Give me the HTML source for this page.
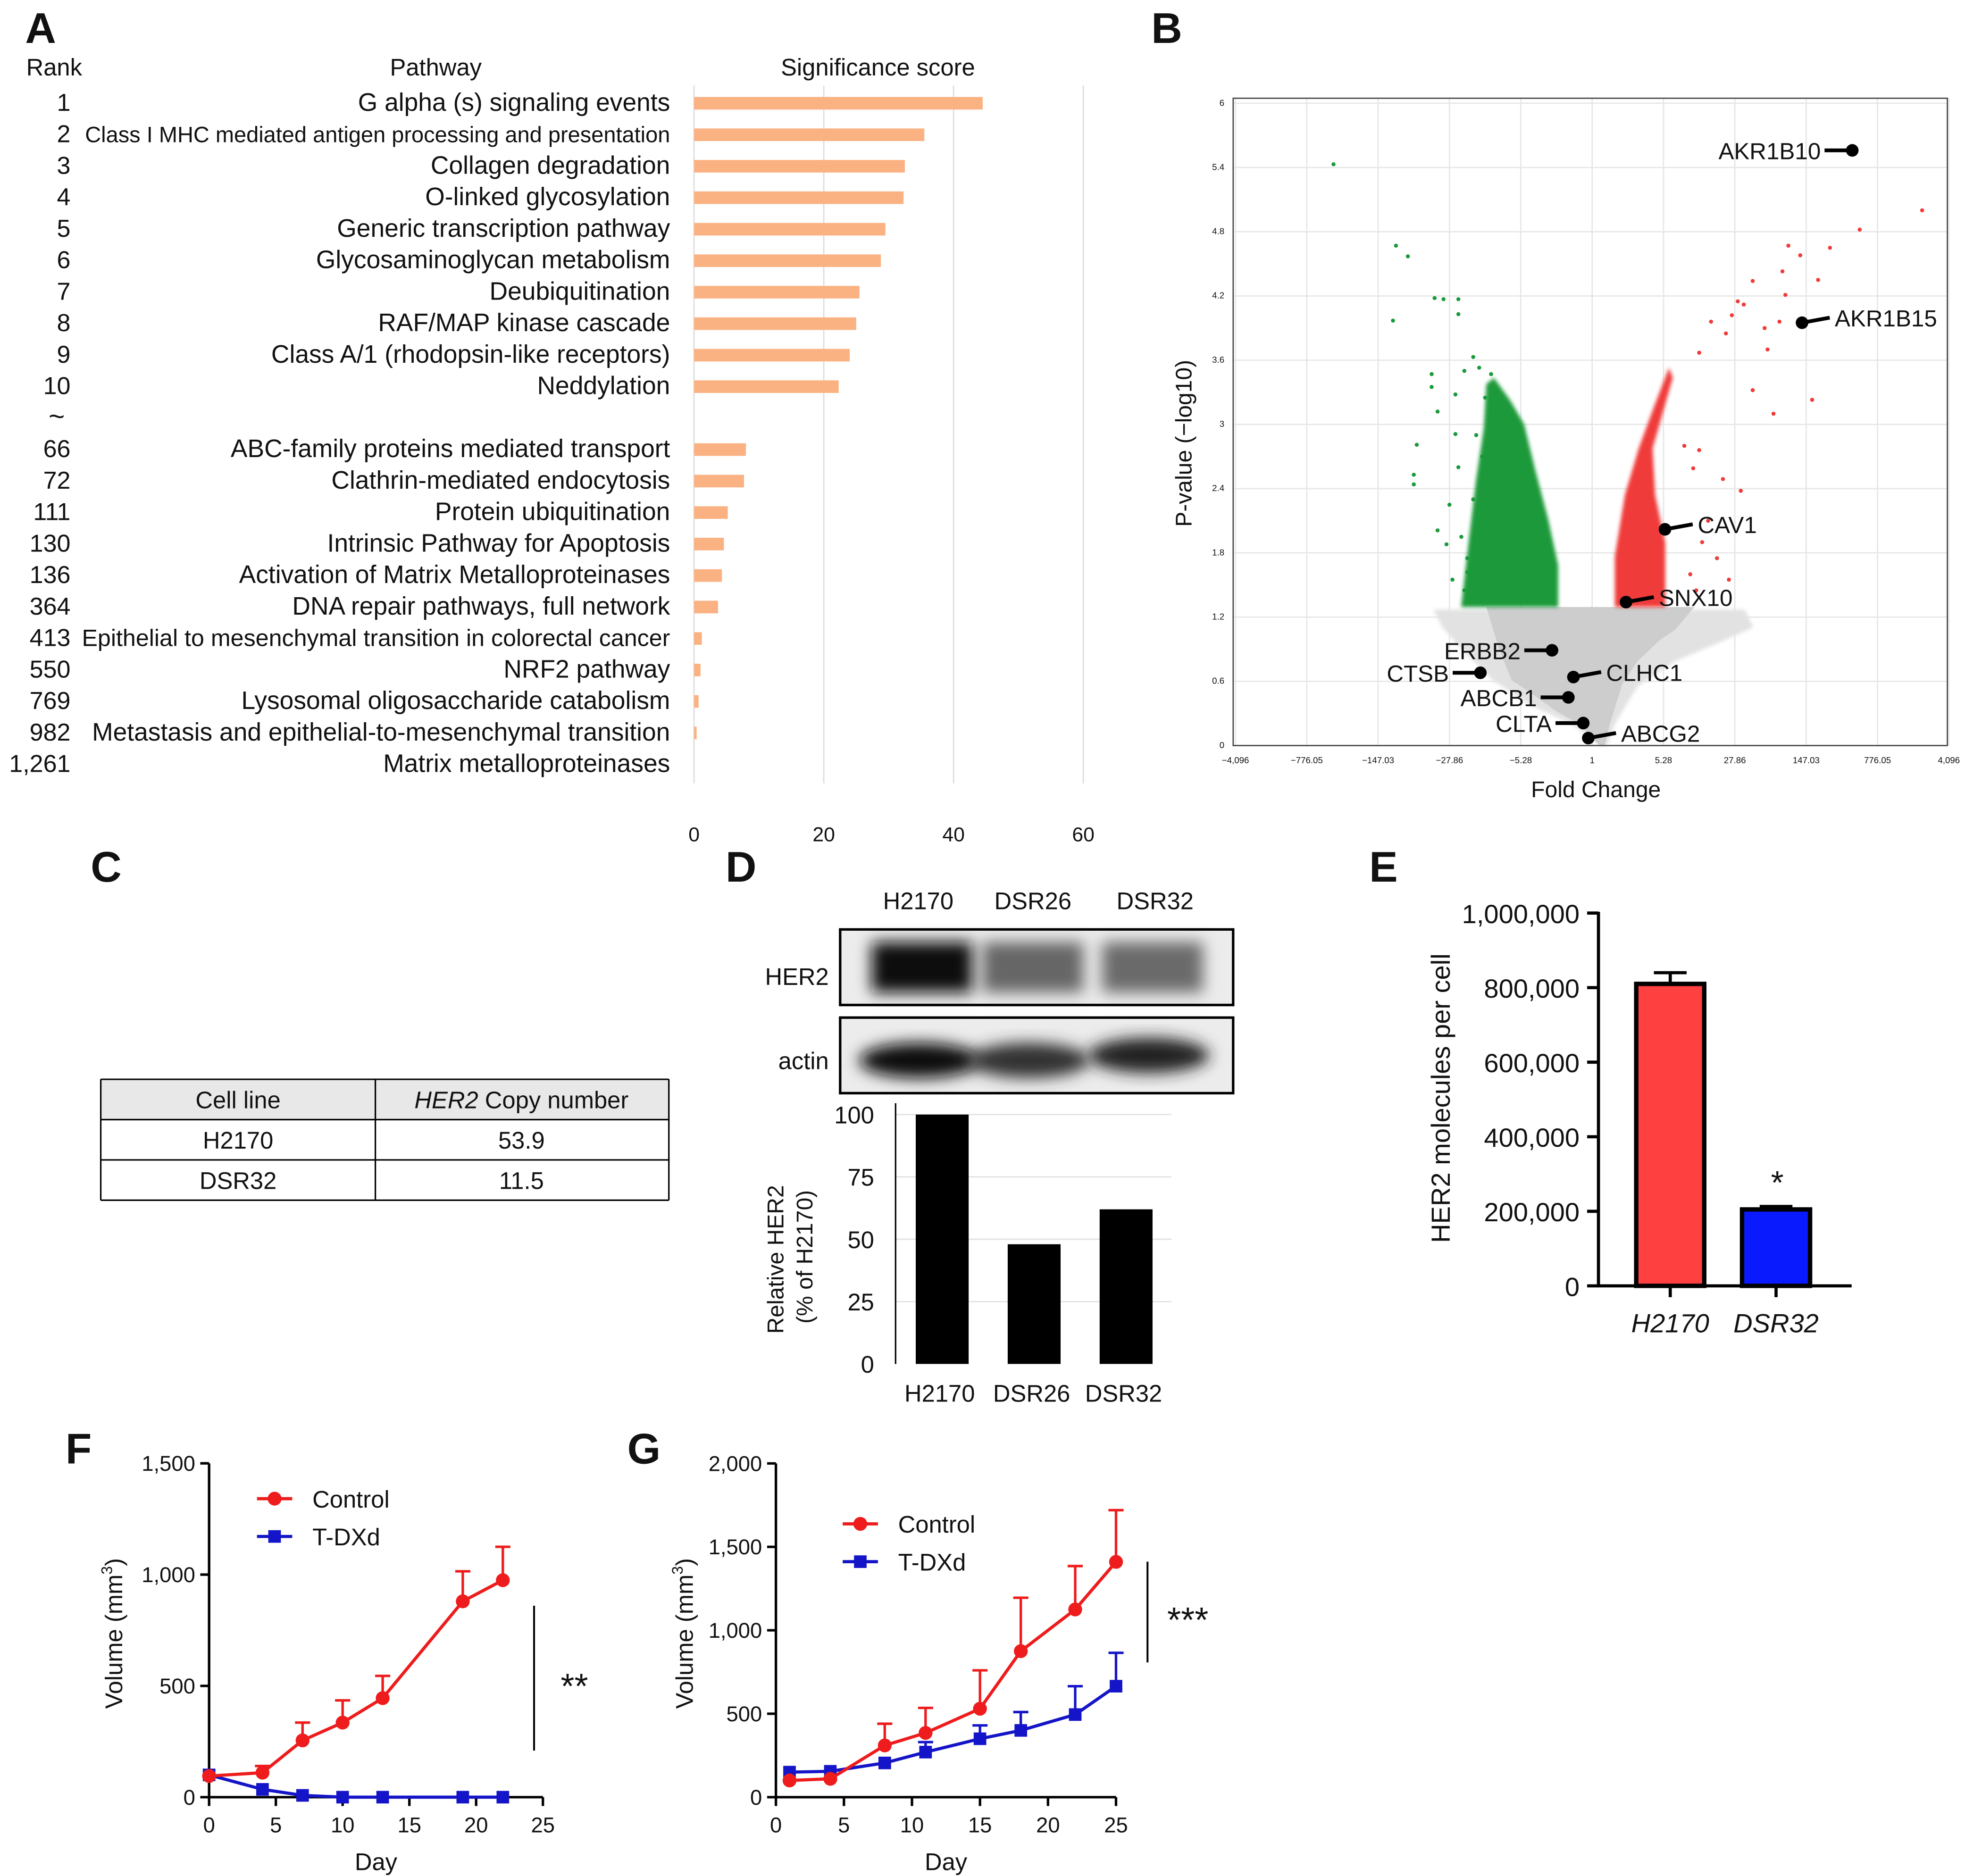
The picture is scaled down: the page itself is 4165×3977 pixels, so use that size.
<!DOCTYPE html>
<html><head><meta charset="utf-8"><style>
html,body{margin:0;padding:0;background:#fff}
svg{display:block}
text{font-family:"Liberation Sans",Arial,sans-serif;fill:#111}
</style></head><body>
<svg id="fig" width="4165" height="3977" viewBox="0 0 1560 1489.6" preserveAspectRatio="none" xmlns="http://www.w3.org/2000/svg">
<defs>
<filter id="blur" x="-20%" y="-40%" width="140%" height="180%"><feGaussianBlur stdDeviation="6"/></filter>
<filter id="soft" x="-10%" y="-10%" width="120%" height="120%"><feGaussianBlur stdDeviation="1.5"/></filter>
</defs>
<g id="pA"></g>
<g id="pB"></g>
<g id="pC"></g>
<g id="pD"></g>
<g id="pE"></g>
<g id="pF"></g>
<g id="pG"></g>
</svg>
<script>
// ---- Panel A data ----
const aRanks=["1","2","3","4","5","6","7","8","9","10","~","66","72","111","130","136","364","413","550","769","982","1,261"];
const aPaths=["G alpha (s) signaling events","Class I MHC mediated antigen processing and presentation","Collagen degradation","O-linked glycosylation","Generic transcription pathway","Glycosaminoglycan metabolism","Deubiquitination","RAF/MAP kinase cascade","Class A/1 (rhodopsin-like receptors)","Neddylation","","ABC-family proteins mediated transport","Clathrin-mediated endocytosis","Protein ubiquitination","Intrinsic Pathway for Apoptosis","Activation of Matrix Metalloproteinases","DNA repair pathways, full network","Epithelial to mesenchymal transition in colorectal cancer","NRF2 pathway","Lysosomal oligosaccharide catabolism","Metastasis and epithelial-to-mesenchymal transition","Matrix metalloproteinases"];
const aScores=[44.5,35.5,32.5,32.3,29.5,28.8,25.5,25,24,22.3,null,8,7.7,5.2,4.6,4.3,3.7,1.2,1,0.7,0.4,0];
const aTicks=[0,20,40,60];
// ---- Panel B data ----
const bGenes=["AKR1B10","AKR1B15","CAV1","SNX10","ERBB2","CTSB","CLHC1","ABCB1","CLTA","ABCG2"];
const bLog2FC=[8.75,7.06,2.45,1.14,-1.35,-3.76,-0.63,-0.8,-0.3,-0.13];
const bLogP=[5.56,3.95,2.02,1.34,0.89,0.68,0.64,0.45,0.21,0.07];
const bGreenX=[-8.7,-6.6,-6.2,-5.3,-6.7,-5.0,-4.5,-4.5,-4.3,-4.0,-5.4,-5.9,-6.0,-5.4,-5.2,-4.6,-4.6,-3.8,-3.4,-3.6,-6.0,-4.8,-5.2,-4.9,-4.2,-4.3,-4.1,-3.9,-4.5,-4.0,-4.4,-3.7,-4.7,-4.2];
const bGreenY=[5.43,4.67,4.57,4.18,3.97,4.17,4.17,4.03,3.5,3.63,3.47,2.81,2.44,3.35,3.12,3.28,2.91,3.53,3.47,3.25,2.53,2.25,2.01,1.88,1.62,1.45,1.38,2.9,2.6,2.3,1.95,2.7,1.55,1.75];
const bRedX=[11.1,9.0,8.0,7.0,6.6,7.6,6.4,5.4,4.9,6.5,5.1,6.3,5.8,4.7,4.5,4.0,3.6,5.9,5.4,6.1,7.4,3.6,3.4,5.0,4.4,3.1,3.3,3.7,3.9,4.2,3.5,4.6];
const bRedY=[5.00,4.82,4.65,4.58,4.67,4.35,4.43,4.34,4.15,4.21,4.12,3.96,3.90,4.02,3.85,3.96,3.67,3.7,3.32,3.10,3.23,2.76,2.59,2.38,2.49,2.8,1.6,1.9,2.1,1.75,1.45,1.55];
const bYTicks=[0,0.6,1.2,1.8,2.4,3,3.6,4.2,4.8,5.4,6];
const bXTicks=["−4,096","−776.05","−147.03","−27.86","−5.28","1","5.28","27.86","147.03","776.05","4,096"];
const bXTickPos=[-12,-9.6,-7.2,-4.8,-2.4,0,2.4,4.8,7.2,9.6,12];
// ---- Panel D data ----
const dCats=["H2170","DSR26","DSR32"];
const dVals=[100,48,62];
const dTicks=[0,25,50,75,100];
// ---- Panel E data ----
const eCats=["H2170","DSR32"];
const eVals=[810000,205000];
const eErr=[30000,8000];
const eTicks=[0,200000,400000,600000,800000,1000000];
const eTickLabels=["0","200,000","400,000","600,000","800,000","1,000,000"];
// ---- Panel F data ----
const fDays=[0,4,7,10,13,19,22];
const fCtrl=[95,110,255,335,445,880,975];
const fCtrlErr=[0,30,80,100,100,135,150];
const fTdxd=[100,35,8,0,0,0,0];
const fYTicks=[0,500,1000,1500];
const fYLabels=["0","500","1,000","1,500"];
// ---- Panel G data ----
const gDays=[1,4,8,11,15,18,22,25];
const gCtrl=[100,110,310,385,530,875,1125,1410];
const gCtrlErr=[0,0,130,150,230,320,260,310];
const gTdxd=[150,155,205,270,350,400,495,665];
const gTdxdErr=[0,0,0,60,80,110,170,200];
const gYTicks=[0,500,1000,1500,2000];
const gYLabels=["0","500","1,000","1,500","2,000"];
const xDayTicks=[0,5,10,15,20,25];

const NS="http://www.w3.org/2000/svg";
function mk(parent,tag,attrs,txt){const e=document.createElementNS(NS,tag);for(const k in attrs)e.setAttribute(k,attrs[k]);if(txt!==undefined)e.textContent=txt;parent.appendChild(e);return e;}

// ===== Panel A =====
(function(){
const g=document.getElementById('pA');
const x0=551, k=5.15, y0=82, dy=25;
const sx=v=>x0+v*k;
let t=mk(g,'text',{x:20,y:34,'font-size':34,'font-weight':'bold'},'A');

t=mk(g,'text',{x:43,y:60,'font-size':19,'text-anchor':'middle'},'Rank');

t=mk(g,'text',{x:346,y:60,'font-size':19,'text-anchor':'middle'},'Pathway');

t=mk(g,'text',{x:697,y:60,'font-size':19,'text-anchor':'middle'},'Significance score');

aTicks.forEach(v=>{
  if(v>0){const l=mk(g,'line',{x1:sx(v),x2:sx(v),y1:68,y2:622,stroke:'#dcdcdc','stroke-width':1});
  }
  const tt=mk(g,'text',{x:sx(v),y:668,'font-size':16,'text-anchor':'middle',fill:'#555'},String(v));
  
});
const ax=mk(g,'line',{x1:x0,x2:x0,y1:68,y2:622,stroke:'#dcdcdc','stroke-width':1});

aRanks.forEach((r,i)=>{
  const y=y0+i*dy;
  const rt=mk(g,'text',{x:i==10?45:56,y:y+6,'font-size':i==10?22:19.5,'text-anchor':i==10?'middle':'end'},r);
  
  if(aPaths[i]){const fs=i==1?17.6:i==17?18.8:20;
  const pt=mk(g,'text',{x:532,y:y+6,'font-size':fs,'text-anchor':'end'},aPaths[i]);
  }
  if(aScores[i]!==null){const b=mk(g,'rect',{x:x0,y:y-5,width:Math.max(aScores[i]*k,0.01),height:10,fill:'#fbb283'});
  }
});
})();

// ===== Panel B =====
(function(){
const g=document.getElementById('pB');
const L=979,R=1546,T=78,B=592;
const sx=v=>1264+v*23.6, sy=v=>592-v*85;
let t=mk(g,'text',{x:914,y:34,'font-size':34,'font-weight':'bold'},'B');

bYTicks.forEach(v=>{
  const l=mk(g,'line',{x1:L,x2:R,y1:sy(v),y2:sy(v),stroke:'#e6e6e6','stroke-width':1});
  
  const tt=mk(g,'text',{x:972,y:sy(v)+2,'font-size':7,'text-anchor':'end',fill:'#444'},String(v));
  
});
bXTickPos.forEach((v,i)=>{
  const l=mk(g,'line',{x1:sx(v),x2:sx(v),y1:T,y2:B,stroke:'#e6e6e6','stroke-width':1});
  
  const tt=mk(g,'text',{x:sx(v),y:606,'font-size':7,'text-anchor':'middle',fill:'#444'},bXTicks[i]);
  
});
// density clouds
let p=mk(g,'path',{d:`M1138 484 L1385 484 L1392 498 L1370 508 L1330 525 L1300 545 L1282 575 L1276 592 L1270 592 L1248 575 L1215 560 L1185 540 L1160 515 L1145 498 Z`,fill:'#e2e2e2',filter:'url(#soft)'});

p=mk(g,'path',{d:`M1180 482 L1345 482 L1330 500 L1318 508 L1300 525 L1288 543 L1278 575 L1274 592 L1270 592 L1254 575 L1236 565 L1215 550 L1200 540 L1190 515 Z`,fill:'#cdcdcd'});

p=mk(g,'path',{d:`M1160 482 L1237 482 L1237 449 L1229 412 L1219 374 L1210 337 L1199 318 L1186 300 L1180 305 L1178 340 L1172 380 L1166 430 Z`,fill:'#1a9a3a',filter:'url(#soft)'});

p=mk(g,'path',{d:`M1282 482 L1322 482 L1322 431 L1314 393 L1312 356 L1328 300 L1325 292 L1312 326 L1301 356 L1290 393 L1282 442 Z`,fill:'#f03a3a',filter:'url(#soft)'});

bGreenX.forEach((v,i)=>{const c=mk(g,'circle',{cx:sx(v),cy:sy(bGreenY[i]),r:1.6,fill:'#1a9a3a'});
});
bRedX.forEach((v,i)=>{const c=mk(g,'circle',{cx:sx(v),cy:sy(bRedY[i]),r:1.6,fill:'#f03a3a'});
});
const fr=mk(g,'rect',{x:L,y:T,width:R-L,height:B-T,fill:'none',stroke:'#444','stroke-width':1});

const dir=[1,-1,-1,-1,1,1,-1,1,1,-1]; // 1 = label left
bGenes.forEach((n,i)=>{
  const cx=sx(bLog2FC[i]), cy=sy(bLogP[i]);
  const left=dir[i]==1;
  const lx=left?cx-22:cx+22, ly=cy+(left?0:-4);
  const ln=mk(g,'line',{x1:cx,y1:cy,x2:lx,y2:ly,stroke:'#000','stroke-width':3});
  
  const c=mk(g,'circle',{cx:cx,cy:cy,r:5,fill:'#000'});
  
  const tt=mk(g,'text',{x:left?lx-3:lx+4,y:ly+7,'font-size':18.5,'text-anchor':left?'end':'start'},n);
  
});
t=mk(g,'text',{x:1267,y:633,'font-size':18,'text-anchor':'middle'},'Fold Change');

t=mk(g,'text',{x:0,y:0,'font-size':18,'text-anchor':'middle',transform:'translate(946,352) rotate(-90)'},'P-value (−log10)');

})();

// ===== Panel C =====
(function(){
const g=document.getElementById('pC');
let t=mk(g,'text',{x:72,y:700,'font-size':34,'font-weight':'bold'},'C');

let r=mk(g,'rect',{x:80,y:857,width:451,height:32,fill:'#e8e8e8'});

[857,889,921,953].forEach(y=>{const l=mk(g,'line',{x1:80,x2:531,y1:y,y2:y,stroke:'#000','stroke-width':1.2});});
[80,298,531].forEach(x=>{const l=mk(g,'line',{x1:x,x2:x,y1:857,y2:953,stroke:'#000','stroke-width':1.2});});
const cells=[["Cell line",null,880],["H2170","53.9",912],["DSR32","11.5",944]];
cells.forEach(c=>{
  let a=mk(g,'text',{x:189,y:c[2],'font-size':19,'text-anchor':'middle'},c[0]);
  
  if(c[1]){a=mk(g,'text',{x:414,y:c[2],'font-size':19,'text-anchor':'middle'},c[1]);
  }
});
const h=mk(g,'text',{x:414,y:880,'font-size':19,'text-anchor':'middle'});

mk(h,'tspan',{'font-style':'italic'},'HER2');mk(h,'tspan',{},' Copy number');
})();

// ===== Panel D =====
(function(){
const g=document.getElementById('pD');
let t=mk(g,'text',{x:576,y:700,'font-size':34,'font-weight':'bold'},'D');

[729,820,917].forEach((x,i)=>{t=mk(g,'text',{x:x,y:722,'font-size':19,'text-anchor':'middle'},dCats[i]);});
t=mk(g,'text',{x:658,y:782,'font-size':19,'text-anchor':'end'},'HER2');
t=mk(g,'text',{x:658,y:849,'font-size':19,'text-anchor':'end'},'actin');
let bg=mk(g,'rect',{x:667,y:738,width:312,height:60,fill:'#ececec'});
bg=mk(g,'rect',{x:667,y:808,width:312,height:60,fill:'#ececec'});
const her=[[732,768,'#111'],[820,768,'#666'],[915,768,'#6a6a6a']];
her.forEach(b=>{const e=mk(g,'rect',{x:b[0]-40,y:b[1]-20,width:80,height:40,fill:b[2],filter:'url(#blur)'});});
const act=[[730,842,'#0a0a0a'],[817,842,'#333'],[912,838,'#222']];
act.forEach(b=>{const e=mk(g,'ellipse',{cx:b[0],cy:b[1],rx:48,ry:14,fill:b[2],filter:'url(#blur)'});});
let fr=mk(g,'rect',{x:667,y:738,width:312,height:60,fill:'none',stroke:'#000','stroke-width':2});
fr=mk(g,'rect',{x:667,y:808,width:312,height:60,fill:'none',stroke:'#000','stroke-width':2});
const sy=v=>1083-v*1.98;
const bx=[748,821,894];
dTicks.forEach(v=>{
  if(v>0){const l=mk(g,'line',{x1:711,x2:930,y1:sy(v),y2:sy(v),stroke:'#e0e0e0','stroke-width':1});}
  const tt=mk(g,'text',{x:694,y:sy(v)+7,'font-size':19,'text-anchor':'end',fill:'#222'},String(v));
  
});
dVals.forEach((v,i)=>{
  const r=mk(g,'rect',{x:bx[i]-21,y:sy(v),width:42,height:v*1.98,fill:'#000'});
  
  const tt=mk(g,'text',{x:bx[i]-2,y:1113,'font-size':19,'text-anchor':'middle'},dCats[i]);
  
});
const ax=mk(g,'line',{x1:711,x2:711,y1:876,y2:1083,stroke:'#000','stroke-width':1.2});
t=mk(g,'text',{x:0,y:0,'font-size':18,'text-anchor':'middle',transform:'translate(622,1000) rotate(-90)'},'Relative HER2');
t=mk(g,'text',{x:0,y:0,'font-size':18,'text-anchor':'middle',transform:'translate(645,998) rotate(-90)'},'(% of H2170)');
})();

// ===== Panel E =====
(function(){
const g=document.getElementById('pE');
let t=mk(g,'text',{x:1087,y:700,'font-size':34,'font-weight':'bold'},'E');

const sy=v=>1021-v*0.000296;
const bx=[1326,1410], cols=['#ff4040','#0a1aff'];
eTicks.forEach((v,i)=>{
  const l=mk(g,'line',{x1:1260,x2:1269,y1:sy(v),y2:sy(v),stroke:'#000','stroke-width':2.5});
  const tt=mk(g,'text',{x:1254,y:sy(v)+8,'font-size':21,'text-anchor':'end'},eTickLabels[i]);
});
eVals.forEach((v,i)=>{
  const e=mk(g,'line',{x1:bx[i],x2:bx[i],y1:sy(v),y2:sy(v+eErr[i]),stroke:'#000','stroke-width':2.5});
  const c=mk(g,'line',{x1:bx[i]-13,x2:bx[i]+13,y1:sy(v+eErr[i]),y2:sy(v+eErr[i]),stroke:'#000','stroke-width':2.5});
  const r=mk(g,'rect',{x:bx[i]-27,y:sy(v),width:54,height:v*0.000296,fill:cols[i],stroke:'#000','stroke-width':3.5});
  
  const tk=mk(g,'line',{x1:bx[i],x2:bx[i],y1:1021,y2:1030,stroke:'#000','stroke-width':2.5});
  const tt=mk(g,'text',{x:bx[i],y:1058,'font-size':21,'text-anchor':'middle','font-style':'italic'},eCats[i]);
});
let a=mk(g,'line',{x1:1269,x2:1269,y1:724,y2:1022,stroke:'#000','stroke-width':2.5});
a=mk(g,'line',{x1:1268,x2:1470,y1:1021,y2:1021,stroke:'#000','stroke-width':2.5});
t=mk(g,'text',{x:1411,y:948,'font-size':26,'text-anchor':'middle'},'*');
t=mk(g,'text',{x:0,y:0,'font-size':21,'text-anchor':'middle',transform:'translate(1151,872) rotate(-90)'},'HER2 molecules per cell');
})();

// ===== Growth panels =====
function growth(gid,letter,lx,x0,xk,y0,yk,yTicks,yLabels,days,ctrl,ctrlErr,tdxd,tdxdErr,legX,legY,brX,brY1,brY2,stars,titleX){
const g=document.getElementById(gid);
const sx=v=>x0+v*xk, sy=v=>y0-v*yk;
let t=mk(g,'text',{x:lx,y:1162,'font-size':34,'font-weight':'bold'},letter);
yTicks.forEach((v,i)=>{
  const l=mk(g,'line',{x1:x0-7,x2:x0,y1:sy(v),y2:sy(v),stroke:'#000','stroke-width':2});
  const tt=mk(g,'text',{x:x0-11,y:sy(v)+6,'font-size':17,'text-anchor':'end'},yLabels[i]);
});
xDayTicks.forEach(v=>{
  const l=mk(g,'line',{x1:sx(v),x2:sx(v),y1:y0,y2:y0+7,stroke:'#000','stroke-width':2});
  const tt=mk(g,'text',{x:sx(v),y:y0+28,'font-size':17,'text-anchor':'middle'},String(v));
});
let a=mk(g,'line',{x1:x0,x2:x0,y1:sy(yTicks[yTicks.length-1]),y2:y0,stroke:'#000','stroke-width':2});
a=mk(g,'line',{x1:x0,x2:sx(25),y1:y0,y2:y0,stroke:'#000','stroke-width':2});
function series(vals,errs,col,shape,name){
  vals.forEach((v,i)=>{ if(errs&&errs[i]>0){
    const e=mk(g,'line',{x1:sx(days[i]),x2:sx(days[i]),y1:sy(v),y2:sy(v+errs[i]),stroke:col,'stroke-width':2});
    const c=mk(g,'line',{x1:sx(days[i])-6,x2:sx(days[i])+6,y1:sy(v+errs[i]),y2:sy(v+errs[i]),stroke:col,'stroke-width':2});}});
  const pl=mk(g,'polyline',{points:vals.map((v,i)=>sx(days[i])+','+sy(v)).join(' '),fill:'none',stroke:col,'stroke-width':2.5});
  
  vals.forEach((v,i)=>{let m;
    if(shape=='c')m=mk(g,'circle',{cx:sx(days[i]),cy:sy(v),r:5.5,fill:col});
    else m=mk(g,'rect',{x:sx(days[i])-5,y:sy(v)-5,width:10,height:10,fill:col});
    });
}
series(tdxd,tdxdErr,'#1414c8','s','tdxd');
series(ctrl,ctrlErr,'#ee1c1c','c','control');
let l=mk(g,'line',{x1:legX-14,x2:legX+14,y1:legY,y2:legY,stroke:'#ee1c1c','stroke-width':2.5});
let m=mk(g,'circle',{cx:legX,cy:legY,r:5.5,fill:'#ee1c1c'});
t=mk(g,'text',{x:legX+30,y:legY+7,'font-size':19},'Control');
l=mk(g,'line',{x1:legX-14,x2:legX+14,y1:legY+30,y2:legY+30,stroke:'#1414c8','stroke-width':2.5});
m=mk(g,'rect',{x:legX-5,y:legY+25,width:10,height:10,fill:'#1414c8'});
t=mk(g,'text',{x:legX+30,y:legY+37,'font-size':19},'T-DXd');
l=mk(g,'line',{x1:brX,x2:brX,y1:brY1,y2:brY2,stroke:'#000','stroke-width':1.5});
t=mk(g,'text',{x:brX+32,y:(brY1+brY2)/2+16,'font-size':28,'text-anchor':'middle'},stars);
t=mk(g,'text',{x:(x0+sx(25))/2,y:y0+58,'font-size':19,'text-anchor':'middle'},'Day');
t=mk(g,'text',{x:0,y:0,'font-size':19,'text-anchor':'middle',transform:`translate(${titleX},${y0-130}) rotate(-90)`});

mk(t,'tspan',{},'Volume (mm');mk(t,'tspan',{'font-size':12,dy:-8},'3');mk(t,'tspan',{dy:8},')');
}
growth('pF','F',52,166,10.6,1427,0.1767,fYTicks,fYLabels,fDays,fCtrl,fCtrlErr,fTdxd,null,218,1190,424,1275,1390,'**',97);
growth('pG','G',498,616,10.8,1427,0.1325,gYTicks,gYLabels,gDays,gCtrl,gCtrlErr,gTdxd,gTdxdErr,683,1210,911,1240,1320,'***',550);
</script>
</body></html>
